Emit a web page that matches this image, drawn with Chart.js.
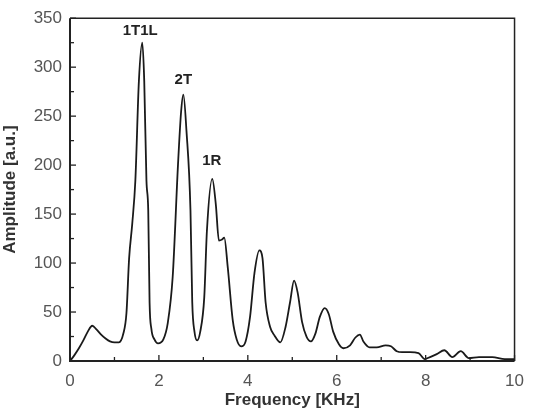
<!DOCTYPE html>
<html><head><meta charset="utf-8">
<script src="https://cdn.jsdelivr.net/npm/chart.js@4/dist/chart.umd.min.js"></script>
<style>html,body{margin:0;padding:0;background:#fff}#wrap{width:534px;height:411px}</style>
</head><body><div id="wrap"><canvas id="c" width="534" height="411"></canvas></div>
<script>
const freq = [0,0.1,0.2,0.3,0.4,0.5,0.6,0.7,0.8,0.9,1.0,1.1,1.2,1.27,1.33,1.4,1.47,1.55,1.626,1.67,1.72,1.76,1.79,1.83,1.9,1.98,2.1,2.2,2.31,2.43,2.5,2.55,2.62,2.71,2.75,2.8,2.86,2.93,3.02,3.08,3.2,3.28,3.35,3.42,3.47,3.55,3.66,3.75,3.85,3.95,4.05,4.15,4.26,4.33,4.4,4.5,4.6,4.73,4.85,4.95,5.04,5.12,5.22,5.32,5.42,5.52,5.62,5.73,5.82,5.92,6.05,6.15,6.3,6.42,6.52,6.6,6.74,6.9,7.1,7.22,7.35,7.47,7.65,7.84,7.98,8.1,8.25,8.42,8.6,8.79,8.97,9.2,9.5,9.78,10];
const amplitude = [0,6,13,21,30,36,32,27,23,20,19,19,28,49,105,140,184,286,325,286,184,154,60,33,22,18,22,39,86,201,255,272,235,154,60,30,21,30,65,133,186,160,123,124,126,95,42,22,15,20,45,90,113,105,60,35,26,19,35,60,82,70,40,25,20,28,45,54,48,30,17,13,16,24,27,20,14,14,16,15,10,9,9,8,2,4,7,11,4,10,3,4,4,2,2];
const xTicks = [0,2,4,6,8,10];
const yTicks = [0,50,100,150,200,250,300,350];
const peakNames = ["1T1L","2T","1R"];
const peakFreq = [1.58,2.55,3.19];
const peakAmp = [337,287,204];

const points = freq.map((f,i)=>({x:f,y:amplitude[i]}));

const frame = {
  id:'frame',
  afterDraw(chart){
    const {ctx, chartArea:a, scales:{x,y}} = chart;
    ctx.save();
    ctx.strokeStyle='#222';
    ctx.lineWidth=1.5;
    ctx.beginPath();
    ctx.moveTo(a.left,a.top);ctx.lineTo(a.right,a.top);ctx.lineTo(a.right,a.bottom);
    ctx.stroke();
    ctx.lineWidth=2;
    ctx.beginPath();
    ctx.moveTo(a.left,a.top);ctx.lineTo(a.left,a.bottom);ctx.lineTo(a.right,a.bottom);
    ctx.stroke();
    ctx.lineWidth=1.3;
    for(let v=0; v<=10; v+=1){
      const px=x.getPixelForValue(v);
      const len = v%2===0?6:4;
      ctx.beginPath();ctx.moveTo(px,a.bottom);ctx.lineTo(px,a.bottom-len);ctx.stroke();
    }
    for(let v=0; v<=350; v+=25){
      const py=y.getPixelForValue(v);
      const len = v%50===0?6:4;
      ctx.beginPath();ctx.moveTo(a.left,py);ctx.lineTo(a.left+len,py);ctx.stroke();
    }
    ctx.fillStyle='#222';
    ctx.font='bold 15px "Liberation Sans", Arial, sans-serif';
    ctx.textAlign='center';ctx.textBaseline='middle';
    peakNames.forEach((n,i)=>{
      ctx.fillText(n, x.getPixelForValue(peakFreq[i]), y.getPixelForValue(peakAmp[i]));
    });
    ctx.restore();
  }
};

new Chart(document.getElementById('c'),{
  type:'line',
  data:{datasets:[{data:points,borderColor:'#1a1a1a',borderWidth:1.8,pointRadius:0,cubicInterpolationMode:'monotone',fill:false}]},
  options:{
    responsive:false,animation:false,
    layout:{padding:{top:17,right:9,left:0,bottom:0}},
    plugins:{legend:{display:false},tooltip:{enabled:false}},
    scales:{
      x:{type:'linear',min:0,max:10,
        afterBuildTicks(s){s.ticks=xTicks.map(v=>({value:v}));},
        afterFit(s){s.height=50;},
        grid:{display:false,drawTicks:false},border:{display:false},
        ticks:{padding:10,color:'#555',font:{family:'"Liberation Sans", Arial, sans-serif',size:17},maxRotation:0},
        title:{display:true,text:'Frequency [KHz]',color:'#333',font:{family:'"Liberation Sans", Arial, sans-serif',size:17,weight:'bold'},padding:{top:0,bottom:0}}
      },
      y:{type:'linear',min:0,max:350,
        afterBuildTicks(s){s.ticks=yTicks.map(v=>({value:v}));},
        afterFit(s){s.width=70;},
        grid:{display:false,drawTicks:false},border:{display:false},
        ticks:{padding:8,color:'#555',font:{family:'"Liberation Sans", Arial, sans-serif',size:17}},
        title:{display:true,text:'Amplitude [a.u.]',color:'#333',font:{family:'"Liberation Sans", Arial, sans-serif',size:17,weight:'bold'},padding:{top:0,bottom:2}}
      }
    }
  },
  plugins:[frame]
});
</script></body></html>
